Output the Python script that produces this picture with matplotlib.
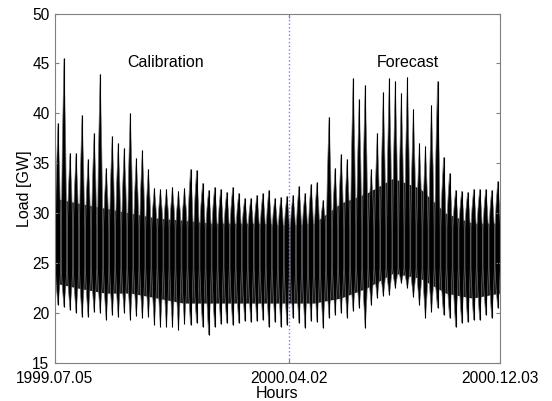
import numpy as np
import pandas as pd
import matplotlib; matplotlib.use("Agg")
import matplotlib.pyplot as plt
import matplotlib.dates as mdates

plt.rcParams["font.family"] = ["Liberation Sans", "DejaVu Sans"]

# weekly envelope of the hourly load [GW]
weeks = pd.date_range("1999-07-05", periods=74, freq="7D")
week_max = [39.0, 45.5, 36.0, 36.0, 39.8, 35.4, 38.0, 43.9, 34.5, 37.7,
            37.0, 36.5, 40.0, 35.5, 36.3, 34.4, 32.5, 32.4, 32.4, 32.6,
            32.2, 32.5, 34.4, 34.3, 33.0, 32.3, 32.6, 32.4, 32.1, 32.6,
            32.0, 31.5, 31.5, 31.8, 32.0, 32.3, 31.5, 31.6, 31.7, 31.8,
            32.7, 32.0, 32.9, 33.1, 31.3, 39.6, 34.5, 35.9, 35.4, 43.5,
            41.4, 42.8, 34.4, 38.0, 42.1, 43.5, 43.2, 42.0, 43.6, 40.4,
            37.0, 36.7, 40.8, 43.2, 35.6, 34.0, 32.3, 32.2, 32.1, 32.4,
            32.4, 32.4, 32.3, 33.2]
week_min = [20.8, 20.6, 20.3, 20.0, 19.6, 19.6, 20.1, 20.0, 19.3, 19.8,
            19.6, 20.0, 19.3, 19.7, 19.5, 19.6, 18.8, 18.6, 18.6, 18.6,
            18.3, 18.9, 18.8, 19.0, 18.6, 17.8, 18.6, 18.9, 19.0, 18.8,
            19.0, 19.2, 19.1, 19.2, 19.3, 18.6, 19.1, 18.6, 18.8, 19.5,
            19.0, 18.5, 19.2, 19.1, 18.5, 19.5, 19.8, 20.0, 19.5, 20.2,
            20.5, 18.5, 20.8, 21.5, 21.7, 21.8, 22.5, 23.0, 22.5, 21.6,
            20.8, 19.5, 20.1, 20.5, 19.8, 19.5, 18.6, 19.0, 19.1, 19.3,
            19.3, 19.8, 19.5, 20.5]

# dense core of the daily cycle (monthly)
months = pd.to_datetime(["1999-07-05", "1999-08-01", "1999-09-01", "1999-10-01",
                         "1999-11-01", "1999-12-01", "2000-01-01", "2000-02-01",
                         "2000-03-01", "2000-04-01", "2000-05-01", "2000-06-01",
                         "2000-07-01", "2000-08-01", "2000-09-01", "2000-10-01",
                         "2000-11-01", "2000-12-03"])
core_hi = [31.5, 31.0, 30.5, 30.0, 29.5, 29.3, 29.0, 29.0, 29.0, 28.8,
           29.0, 31.0, 32.0, 33.5, 32.5, 30.0, 29.0, 29.0]
core_lo = [23.0, 22.5, 22.0, 22.0, 21.5, 21.0, 21.0, 21.0, 21.0, 21.0,
           21.0, 21.5, 22.5, 24.0, 23.5, 22.0, 21.5, 22.0]

split_day = pd.Timestamp("2000-04-02")
x_ticks = pd.to_datetime(["1999-07-05", "2000-04-02", "2000-12-03"])
x_labels = ["1999.07.05", "2000.04.02", "2000.12.03"]

fig = plt.figure(figsize=(5.52, 4.01), dpi=100)
ax = fig.add_axes([0.0996, 0.0948, 0.806, 0.8715])

# dark band of the daily cycle, then one tapered spike per week
ax.fill_between(months, core_lo, core_hi, color="#1c1c1c", lw=0)
centres = mdates.date2num(weeks + pd.Timedelta(hours=84))
half = 3.1
shoulder_lo, shoulder_hi = 24.5, 28.5
for c, lo, hi in zip(centres, week_min, week_max):
    mid_hi = (shoulder_hi + hi) / 2
    mid_lo = (shoulder_lo + lo) / 2
    xs = [c, c - 0.62 * half, c - half, c - half, c - 0.62 * half, c,
          c + 0.62 * half, c + half, c + half, c + 0.62 * half]
    ys = [lo, mid_lo, shoulder_lo, shoulder_hi, mid_hi, hi,
          mid_hi, shoulder_hi, shoulder_lo, mid_lo]
    ax.fill(xs, ys, facecolor="black", edgecolor="#6e6e6e", lw=0.5)
ax.vlines(centres, week_min, week_max, color="black", lw=0.8)

ax.axvline(split_day, color="#7b7bff", ls=":", lw=1.0)
ax.text(pd.Timestamp("1999-11-10"), 45.1, "Calibration", ha="center", va="center", fontsize=11.5)
ax.text(pd.Timestamp("2000-08-18"), 45.1, "Forecast", ha="center", va="center", fontsize=11.5)

ax.set_xlim(x_ticks[0], x_ticks[-1])
ax.set_ylim(15, 50)
ax.set_xticks(x_ticks)
ax.set_xticklabels(x_labels)
ax.set_yticks(np.arange(15, 51, 5))
ax.tick_params(direction="in", length=3, labelsize=11.2, top=True, right=True,
               color="#808080")
ax.tick_params(axis="x", pad=5.5)
ax.tick_params(axis="y", pad=4)
for s in ax.spines.values():
    s.set_color("#808080")
ax.set_xlabel("Hours", fontsize=11.5, labelpad=0.5)
ax.set_ylabel("Load [GW]", fontsize=11.5, labelpad=0)

fig.savefig("out.png", dpi=100)
